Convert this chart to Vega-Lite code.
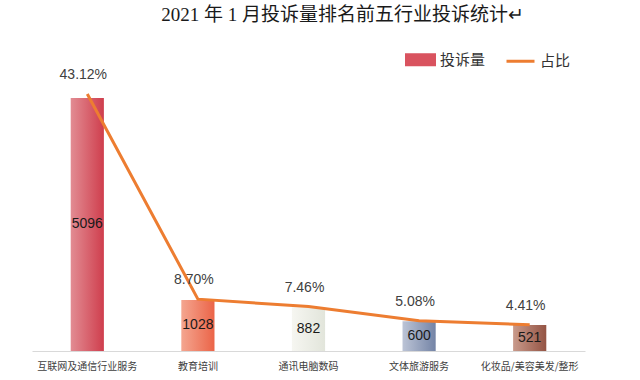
{
  "$schema": "https://vega.github.io/schema/vega-lite/v6.json",
  "width": 553,
  "height": 298,
  "autosize": {"type": "none"},
  "padding": {"left": 32, "top": 53, "right": 55, "bottom": 29},
  "background": "white",
  "config": {"view": {"stroke": null}},
  "title": {
    "text": "2021 年 1 月投诉量排名前五行业投诉统计↵",
    "font": "Liberation Serif, Noto Sans CJK SC",
    "fontSize": 19,
    "fontWeight": "normal",
    "color": "#1a1a1a",
    "anchor": "middle",
    "offset": 19,
    "dx": 34
  },
  "data": {
    "values": [
      {"name": "互联网及通信行业服务", "count": 5096, "pct": 0.4312, "pctLabel": "43.12%"},
      {"name": "教育培训", "count": 1028, "pct": 0.087, "pctLabel": "8.70%"},
      {"name": "通讯电脑数码", "count": 882, "pct": 0.0746, "pctLabel": "7.46%"},
      {"name": "文体旅游服务", "count": 600, "pct": 0.0508, "pctLabel": "5.08%"},
      {"name": "化妆品/美容美发/整形", "count": 521, "pct": 0.0441, "pctLabel": "4.41%"}
    ]
  },
  "encoding": {
    "x": {
      "field": "name",
      "type": "nominal",
      "sort": null,
      "scale": {"paddingInner": 0.7, "paddingOuter": 0.35},
      "axis": {
        "title": null,
        "ticks": false,
        "domainColor": "#d9d9d9",
        "domainWidth": 1,
        "labelAngle": 0,
        "labelFont": "Noto Sans CJK SC",
        "labelFontSize": 10,
        "labelColor": "#404040",
        "labelPadding": 10,
        "grid": false
      }
    }
  },
  "layer": [
    {
      "transform": [{"filter": "datum.name === '互联网及通信行业服务'"}],
      "mark": {"type": "bar", "color": {"gradient": "linear", "x1": 0, "x2": 1, "y1": 0, "y2": 0, "stops": [{"offset": 0, "color": "#e28c93"}, {"offset": 1, "color": "#cf3e4d"}]}},
      "encoding": {"y": {"field": "count", "type": "quantitative", "scale": {"domain": [0, 6000]}, "axis": null}}
    },
    {
      "transform": [{"filter": "datum.name === '教育培训'"}],
      "mark": {"type": "bar", "color": {"gradient": "linear", "x1": 0, "x2": 1, "y1": 0, "y2": 0, "stops": [{"offset": 0, "color": "#f4a690"}, {"offset": 1, "color": "#eb6448"}]}},
      "encoding": {"y": {"field": "count", "type": "quantitative", "scale": {"domain": [0, 6000]}, "axis": null}}
    },
    {
      "transform": [{"filter": "datum.name === '通讯电脑数码'"}],
      "mark": {"type": "bar", "color": {"gradient": "linear", "x1": 0, "x2": 1, "y1": 0, "y2": 0, "stops": [{"offset": 0, "color": "#f6f6f1"}, {"offset": 1, "color": "#e2e5db"}]}},
      "encoding": {"y": {"field": "count", "type": "quantitative", "scale": {"domain": [0, 6000]}, "axis": null}}
    },
    {
      "transform": [{"filter": "datum.name === '文体旅游服务'"}],
      "mark": {"type": "bar", "color": {"gradient": "linear", "x1": 0, "x2": 1, "y1": 0, "y2": 0, "stops": [{"offset": 0, "color": "#bcc4d6"}, {"offset": 1, "color": "#7484a6"}]}},
      "encoding": {"y": {"field": "count", "type": "quantitative", "scale": {"domain": [0, 6000]}, "axis": null}}
    },
    {
      "transform": [{"filter": "datum.name === '化妆品/美容美发/整形'"}],
      "mark": {"type": "bar", "color": {"gradient": "linear", "x1": 0, "x2": 1, "y1": 0, "y2": 0, "stops": [{"offset": 0, "color": "#c99a8b"}, {"offset": 1, "color": "#945444"}]}},
      "encoding": {"y": {"field": "count", "type": "quantitative", "scale": {"domain": [0, 6000]}, "axis": null}}
    },
    {
      "mark": {"type": "bar", "opacity": 0},
      "encoding": {
        "y": {"field": "count", "type": "quantitative", "scale": {"domain": [0, 6000]}, "axis": null},
        "color": {
          "datum": "投诉量",
          "type": "nominal",
          "scale": {"domain": ["投诉量", "占比"], "range": ["#d9535f", "#ed7d31"]},
          "legend": {
            "title": null,
            "orient": "none",
            "legendX": 373,
            "legendY": -9,
            "direction": "horizontal",
            "labelFont": "Noto Sans CJK SC",
            "labelFontSize": 15,
            "labelColor": "#333333",
            "columnPadding": 14,
            "symbolSize": 784,
            "labelOffset": 4,
            "symbolOpacity": 1,
            "encode": {
              "symbols": {
                "update": {
                  "shape": {"signal": "datum.value === '占比' ? 'M-1,0H1' : 'M-1,-0.36H1V0.36H-1Z'"},
                  "fill": {"signal": "datum.value === '占比' ? 'transparent' : '#dc5e69'"},
                  "stroke": {"signal": "datum.value === '占比' ? '#ed7d31' : 'transparent'"},
                  "strokeWidth": {"value": 3},
                  "opacity": {"value": 1}
                }
              }
            }
          }
        }
      }
    },
    {
      "mark": {"type": "text", "font": "Liberation Sans", "fontSize": 14, "color": "#1a1a1a", "baseline": "middle"},
      "encoding": {
        "y": {"field": "count", "type": "quantitative", "scale": {"domain": [0, 12000]}, "axis": null},
        "text": {"field": "count", "type": "quantitative", "format": "d"}
      }
    },
    {
      "mark": {"type": "line", "color": "#ed7d31", "strokeWidth": 3},
      "encoding": {
        "y": {"field": "pct", "type": "quantitative", "scale": {"domain": [0, 0.5]}, "axis": null},
        "color": {"datum": "占比", "type": "nominal"}
      }
    },
    {
      "mark": {"type": "text", "font": "Liberation Sans", "fontSize": 14, "color": "#404040", "baseline": "middle", "dy": -19, "dx": -4},
      "encoding": {
        "y": {"field": "pct", "type": "quantitative", "scale": {"domain": [0, 0.5]}, "axis": null},
        "text": {"field": "pctLabel"}
      }
    }
  ],
  "resolve": {"scale": {"y": "independent"}}
}
